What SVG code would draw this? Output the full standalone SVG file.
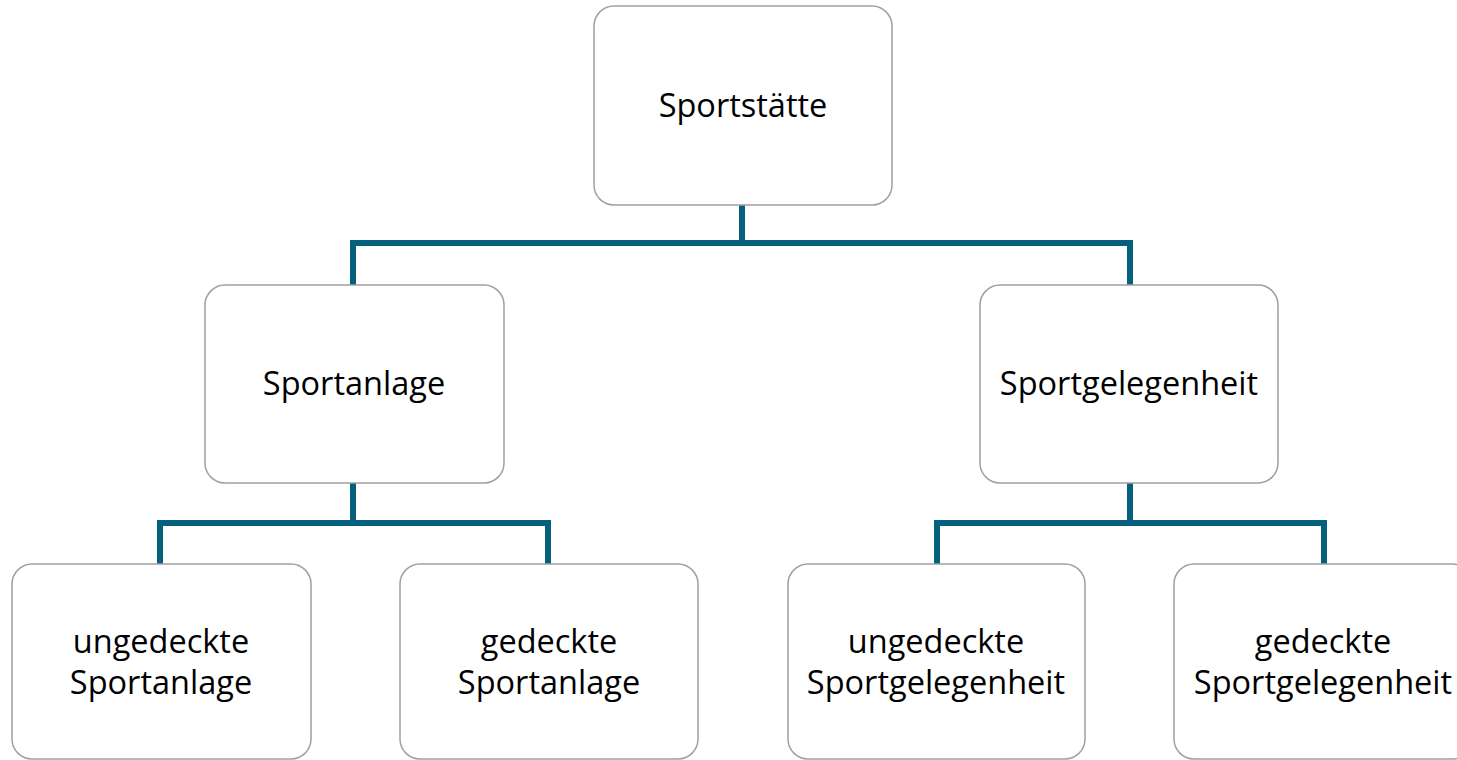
<svg xmlns="http://www.w3.org/2000/svg" width="1457" height="760" viewBox="0 0 1457 760">
<style>
.box{fill:#ffffff;stroke:#a0a0a0;stroke-width:1.5}
.lbl{font-family:"Open Sans","Noto Sans",sans-serif;font-size:32.5px;fill:#000000;text-anchor:middle}
.conn{fill:none;stroke:#05607e;stroke-width:6;stroke-linejoin:miter}
</style>
<rect width="1457" height="760" fill="#ffffff"/>
<g id="connectors">
<path class="conn" d="M742 205 V243 M353 285 V243 H1130 V285"/>
<path class="conn" d="M353 483 V523 M160 564 V523 H548 V564"/>
<path class="conn" d="M1130 483 V523 M937 564 V523 H1324 V564"/>
</g>
<g id="n-sportstaette">
<rect class="box" x="594" y="6" width="298" height="199" rx="20"/>
<text class="lbl" x="743" y="117">Sportstätte</text>
</g>
<g id="n-sportanlage">
<rect class="box" x="205" y="285" width="299" height="198" rx="20"/>
<text class="lbl" x="354" y="395">Sportanlage</text>
</g>
<g id="n-sportgelegenheit">
<rect class="box" x="980" y="285" width="298" height="198" rx="20"/>
<text class="lbl" x="1129" y="395">Sportgelegenheit</text>
</g>
<g id="n-ungedeckte-sportanlage">
<rect class="box" x="12" y="564" width="299" height="195" rx="20"/>
<text class="lbl" x="161" y="653">ungedeckte</text>
<text class="lbl" x="161" y="694">Sportanlage</text>
</g>
<g id="n-gedeckte-sportanlage">
<rect class="box" x="400" y="564" width="298" height="195" rx="20"/>
<text class="lbl" x="549" y="653">gedeckte</text>
<text class="lbl" x="549" y="694">Sportanlage</text>
</g>
<g id="n-ungedeckte-sportgelegenheit">
<rect class="box" x="788" y="564" width="297" height="195" rx="20"/>
<text class="lbl" x="936" y="653">ungedeckte</text>
<text class="lbl" x="936" y="694">Sportgelegenheit</text>
</g>
<g id="n-gedeckte-sportgelegenheit">
<rect class="box" x="1174" y="564" width="298" height="195" rx="20"/>
<text class="lbl" x="1323" y="653">gedeckte</text>
<text class="lbl" x="1323" y="694">Sportgelegenheit</text>
</g>
</svg>
